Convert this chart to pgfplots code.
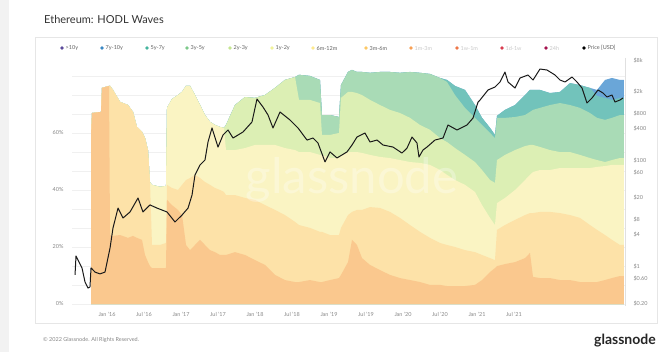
\documentclass[border=0pt]{standalone}
\usepackage{fontspec}
\setmainfont{Lato}
\usepackage{pgfplots}
\pgfplotsset{compat=1.18}
\usepackage{pgfplotstable}

\definecolor{bA}{HTML}{FAC88E}
\definecolor{bB}{HTML}{FDE2A8}
\definecolor{bC}{HTML}{FAF4C3}
\definecolor{bD}{HTML}{DCEFB4}
\definecolor{bE}{HTML}{A9DBB6}
\definecolor{bF}{HTML}{72C3BB}
\definecolor{bG}{HTML}{6AA6D8}
\definecolor{lA}{HTML}{5B4A9B}
\definecolor{lB}{HTML}{3B88C4}
\definecolor{lC}{HTML}{45B59E}
\definecolor{lD}{HTML}{7CC98A}
\definecolor{lE}{HTML}{C4E58F}
\definecolor{lF}{HTML}{F0F29A}
\definecolor{lG}{HTML}{FDE98E}
\definecolor{lH}{HTML}{FCC865}
\definecolor{lI}{HTML}{F8A055}
\definecolor{lJ}{HTML}{EE7748}
\definecolor{lK}{HTML}{D93D50}
\definecolor{lL}{HTML}{A4124D}
\definecolor{tickgray}{HTML}{878787}
\definecolor{leggray}{HTML}{606060}
\definecolor{offgray}{HTML}{C8C8C8}
\definecolor{titlegray}{HTML}{333333}
\definecolor{boxgray}{HTML}{E6E6E6}
\definecolor{pagegray}{HTML}{F2F2F2}

\pgfplotstableread{
x c1 c2 c3 c4 c5 c6 c7
2015.784 59.3 59.3 59.3 59.3 59.3 59.3 59.3
2015.797 67.0 67.0 67.0 67.0 67.0 67.0 67.0
2015.919 67.4 67.4 67.4 67.4 67.4 67.4 67.4
2015.932 75.8 75.8 75.8 75.8 75.8 75.8 75.8
2016.027 76.5 76.5 76.5 76.5 76.5 76.5 76.5
2016.041 24.2 76.5 76.5 76.5 76.5 76.5 76.5
2016.081 23.9 75.1 75.1 75.1 75.1 75.1 75.1
2016.176 24.2 70.9 70.9 70.9 70.9 70.9 70.9
2016.284 23.2 69.8 69.8 69.8 69.8 69.8 69.8
2016.351 23.9 67.4 67.4 67.4 67.4 67.4 67.4
2016.405 23.2 62.1 62.1 62.1 62.1 62.1 62.1
2016.473 22.5 60.4 60.4 60.4 60.4 60.4 60.4
2016.514 17.2 58.2 58.2 58.2 58.2 58.2 58.2
2016.554 14.7 54.0 54.0 54.0 54.0 54.0 54.0
2016.581 13.3 42.8 42.8 42.8 42.8 42.8 42.8
2016.608 12.6 20.7 41.8 41.8 41.8 41.8 41.8
2016.716 12.6 20.7 41.1 41.1 41.1 41.1 41.1
2016.797 12.6 21.4 41.4 41.4 41.4 41.4 41.4
2016.811 36.5 41.8 68.8 68.8 68.8 68.8 68.8
2016.878 34.7 40.7 71.9 71.9 71.9 71.9 71.9
2016.959 33.0 40.0 73.3 73.3 73.3 73.3 73.3
2017.014 31.2 41.8 74.4 74.4 74.4 74.4 74.4
2017.068 20.7 43.5 76.5 76.5 76.5 76.5 76.5
2017.122 18.9 44.2 76.5 76.5 76.5 76.5 76.5
2017.189 20.7 45.3 73.3 73.3 73.3 73.3 73.3
2017.257 22.5 44.2 69.8 69.8 69.8 69.8 69.8
2017.324 20.7 42.8 66.3 66.3 66.3 66.3 66.3
2017.392 18.9 41.8 63.9 63.9 63.9 63.9 63.9
2017.459 18.2 40.7 62.8 62.8 62.8 62.8 62.8
2017.527 17.2 40.0 62.1 62.1 62.1 62.1 62.1
2017.581 17.2 39.3 61.8 61.8 61.8 61.8 61.8
2017.608 17.2 38.2 54.0 62.8 62.8 62.8 62.8
2017.730 18.2 38.2 54.0 69.8 69.8 69.8 69.8
2017.865 17.2 37.2 54.7 72.6 72.6 72.6 72.6
2018.000 15.4 36.5 55.8 72.3 72.3 72.3 72.3
2018.135 13.7 34.7 55.8 73.3 73.3 73.3 73.3
2018.270 10.2 33.0 55.8 75.8 75.8 75.8 75.8
2018.405 8.4 31.2 54.7 78.6 78.6 78.6 78.6
2018.541 7.7 28.8 54.0 79.6 79.6 79.6 79.6
2018.595 7.7 27.7 53.3 71.6 80.4 80.4 80.4
2018.743 8.4 26.7 53.3 71.6 80.0 80.0 80.0
2018.878 7.7 25.3 52.3 70.5 78.6 78.6 78.6
2018.905 7.7 25.3 52.3 59.3 66.3 66.3 66.3
2019.014 8.4 24.2 51.2 59.3 66.3 66.3 66.3
2019.135 9.1 24.2 51.2 60.0 65.6 65.6 65.6
2019.162 10.2 26.7 52.3 72.3 76.8 76.8 76.8
2019.257 14.7 31.2 53.3 74.4 81.4 81.4 81.4
2019.311 22.5 32.3 53.3 74.4 82.1 82.1 82.1
2019.378 20.7 33.0 53.3 74.0 81.4 81.4 81.4
2019.446 16.1 33.0 53.0 73.3 81.4 81.4 81.4
2019.554 13.7 34.0 52.3 71.6 81.1 81.1 81.1
2019.689 11.9 33.7 51.6 69.8 81.4 81.4 81.4
2019.824 10.2 32.3 51.2 68.1 81.4 81.4 81.4
2019.959 9.1 30.2 50.5 67.0 81.1 81.1 81.1
2020.095 8.4 27.7 49.8 65.3 81.4 81.4 81.4
2020.230 7.7 25.3 49.5 62.8 81.1 81.1 81.1
2020.365 6.7 23.2 48.8 61.1 80.7 80.7 80.7
2020.500 6.7 21.4 47.0 58.2 79.3 79.3 79.3
2020.595 6.3 20.7 45.3 56.8 77.9 78.6 78.6
2020.703 6.3 20.0 43.5 54.7 73.3 76.5 76.5
2020.838 6.3 18.9 41.8 52.3 68.8 75.1 75.1
2020.973 6.7 18.2 39.3 49.8 65.3 69.8 69.8
2021.068 8.4 17.2 34.7 47.0 62.8 65.3 65.3
2021.176 11.2 16.1 30.2 43.5 60.0 61.8 61.8
2021.243 12.6 15.4 27.7 42.5 58.2 59.3 59.3
2021.270 13.3 26.0 35.4 50.5 65.3 66.0 66.0
2021.378 14.0 27.7 37.2 52.3 65.3 68.1 68.1
2021.514 14.7 29.5 40.0 54.0 65.6 69.8 69.8
2021.649 16.1 31.2 43.5 55.4 66.3 73.3 73.3
2021.716 17.9 31.9 45.3 55.8 67.4 75.1 75.1
2021.757 9.5 31.9 46.3 55.8 68.1 75.1 75.1
2021.851 9.1 32.3 47.0 55.1 68.8 75.1 75.1
2021.986 9.1 32.3 47.0 54.0 69.8 74.0 74.0
2022.122 8.4 31.9 47.7 53.3 70.5 74.4 74.4
2022.257 8.4 31.2 47.7 53.3 69.8 77.5 77.5
2022.392 7.7 30.2 47.7 52.3 68.8 76.8 76.8
2022.527 7.7 27.7 47.7 51.2 67.0 75.8 75.8
2022.622 7.7 26.0 48.1 50.5 65.3 73.0 75.1
2022.730 8.4 24.2 48.4 49.8 64.6 72.3 78.6
2022.824 9.1 22.5 48.8 50.5 65.3 71.6 79.3
2022.932 9.8 20.7 48.8 51.2 66.3 72.3 78.6
2022.986 9.8 20.7 48.8 51.2 66.3 72.3 78.6
}\hodl

\pgfplotstableread{
x p
2015.568 0.71
2015.581 1.61
2015.622 1.24
2015.662 0.96
2015.703 0.52
2015.743 0.40
2015.770 0.42
2015.784 0.96
2015.838 0.80
2015.905 0.74
2015.973 0.80
2016.041 2.28
2016.081 5.43
2016.149 12.9
2016.216 8.39
2016.311 10.9
2016.419 20
2016.486 10.9
2016.581 14.8
2016.676 12.9
2016.811 10.9
2016.919 7.05
2017.014 9.55
2017.095 12.9
2017.149 22.8
2017.189 54.3
2017.257 84
2017.324 104
2017.365 228
2017.419 419
2017.500 183
2017.568 309
2017.635 384
2017.703 271
2017.838 352
2017.959 543
2018.027 1476
2018.108 1042
2018.176 736
2018.243 419
2018.338 839
2018.473 593
2018.581 419
2018.703 248
2018.784 271
2018.851 218
2018.946 96
2019.014 148
2019.108 114
2019.243 148
2019.311 200
2019.378 283
2019.486 337
2019.554 228
2019.649 248
2019.730 200
2019.865 183
2019.986 141
2020.054 175
2020.122 283
2020.189 218
2020.216 119
2020.270 161
2020.324 183
2020.432 248
2020.541 271
2020.608 477
2020.730 384
2020.865 477
2020.946 646
2021.014 1295
2021.041 1413
2021.149 2183
2021.243 2485
2021.311 3090
2021.378 4765
2021.419 3090
2021.514 2378
2021.581 3670
2021.689 4188
2021.757 3366
2021.851 5430
2021.946 5200
2022.054 4188
2022.122 3366
2022.189 3090
2022.284 3835
2022.351 3090
2022.419 2378
2022.486 1240
2022.554 1541
2022.635 2183
2022.703 1915
2022.757 1610
2022.824 1755
2022.865 1295
2022.932 1413
2022.973 1541
}\price

\newcommand{\tickfont}{\fontsize{5.5}{6}\selectfont}

\begin{document}
\begin{tikzpicture}
\fill[white] (0pt,0pt) rectangle (671pt,-352pt);
\fill[pagegray] (0pt,0pt) rectangle (9pt,-352pt);
\draw[boxgray, line width=0.5pt] (35pt,-37pt) rectangle (657pt,-323pt);
\node[anchor=base west, font=\fontsize{11}{13}\selectfont, text=titlegray, inner sep=0pt] at (44pt,-24pt) {Ethereum: HODL Waves};

% legend
\foreach \px/\col/\lab/\tc in {62/lA/{>10y}/leggray, 102/lB/{7y-10y}/leggray, 147/lC/{5y-7y}/leggray, 187/lD/{3y-5y}/leggray, 230/lE/{2y-3y}/leggray, 272/lF/{1y-2y}/leggray, 313/lG/{6m-12m}/leggray, 366/lH/{3m-6m}/leggray, 411/lI/{1m-3m}/offgray, 457/lJ/{1w-1m}/offgray, 502/lK/{1d-1w}/offgray, 546/lL/{24h}/offgray, 584/black/{Price [USD]}/leggray}{
  \fill[\col] (\px pt,-48pt) circle (1.8pt);
  \node[anchor=west, font=\tickfont, text=\tc, inner sep=0pt] at (\px pt+3.5pt,-48.2pt) {\lab};
}

\begin{axis}[at={(72pt,-304pt)}, anchor=south west, scale only axis,
  width=553pt, height=244pt,
  xmin=2015.527, xmax=2023.0, ymin=0, ymax=85.6,
  axis line style={draw=none}, major tick length=0pt, minor tick length=0pt,
  xtick={2016,2016.5,2017,2017.5,2018,2018.5,2019,2019.5,2020,2020.5,2021,2021.5},
  xticklabels={Jan '16,Jul '16,Jan '17,Jul '17,Jan '18,Jul '18,Jan '19,Jul '19,Jan '20,Jul '20,Jan '21,Jul '21},
  xticklabel style={font=\tickfont, text=tickgray, yshift=-5pt},
  ytick={0,20,40,60,80},
  yticklabels={0\%,20\%,40\%,60\%,},
  yticklabel style={font=\tickfont, text=tickgray, xshift=-5pt},
  minor y tick num=2,
  ymajorgrids, yminorgrids,
  major grid style={draw=black!6, line width=0.4pt},
  minor grid style={draw=black!6, line width=0.4pt},
  clip=true]
\addplot[fill=bG, draw=none] table[x=x,y=c7]{\hodl} \closedcycle;
\addplot[fill=bF, draw=none] table[x=x,y=c6]{\hodl} \closedcycle;
\addplot[fill=bE, draw=none] table[x=x,y=c5]{\hodl} \closedcycle;
\addplot[fill=bD, draw=none] table[x=x,y=c4]{\hodl} \closedcycle;
\addplot[fill=bC, draw=none] table[x=x,y=c3]{\hodl} \closedcycle;
\addplot[fill=bB, draw=none] table[x=x,y=c2]{\hodl} \closedcycle;
\addplot[fill=bA, draw=none] table[x=x,y=c1]{\hodl} \closedcycle;
\end{axis}

\node[font=\fontsize{49}{49}\selectfont, text=white, opacity=0.3] at (352pt,-180pt) {glassnode};

\begin{axis}[at={(72pt,-304pt)}, anchor=south west, scale only axis,
  width=553pt, height=244pt,
  xmin=2015.527, xmax=2023.0, ymode=log, ymin=0.2, ymax=8036,
  axis line style={draw=none}, major tick length=0pt, minor tick length=0pt,
  xtick=\empty,
  ytick={0.2,0.6,1,4,8,20,60,100,400,800,2000,8000},
  yticklabels={\$0.20,\$0.60,\$1,\$4,\$8,\$20,\$60,\$100,\$400,\$800,\$2k,\$8k},
  yticklabel pos=right,
  yticklabel style={font=\tickfont, text=tickgray, xshift=5pt},
  clip=true]
\addplot[black!90, line width=1pt, line join=round] table[x=x,y=p]{\price};
\end{axis}

\draw[black!12, line width=0.5pt] (625pt,-58pt) -- (625pt,-306pt);
\node[anchor=west, font=\fontsize{5.5}{6}\selectfont, text=tickgray, inner sep=0pt] at (43pt,-340pt) {\textcopyright{} 2022 Glassnode. All Rights Reserved.};
\node[anchor=east, font=\bfseries\fontsize{14}{14}\selectfont, text=black!85, inner sep=0pt] at (656pt,-341pt) {glassnode};
\end{tikzpicture}
\end{document}
